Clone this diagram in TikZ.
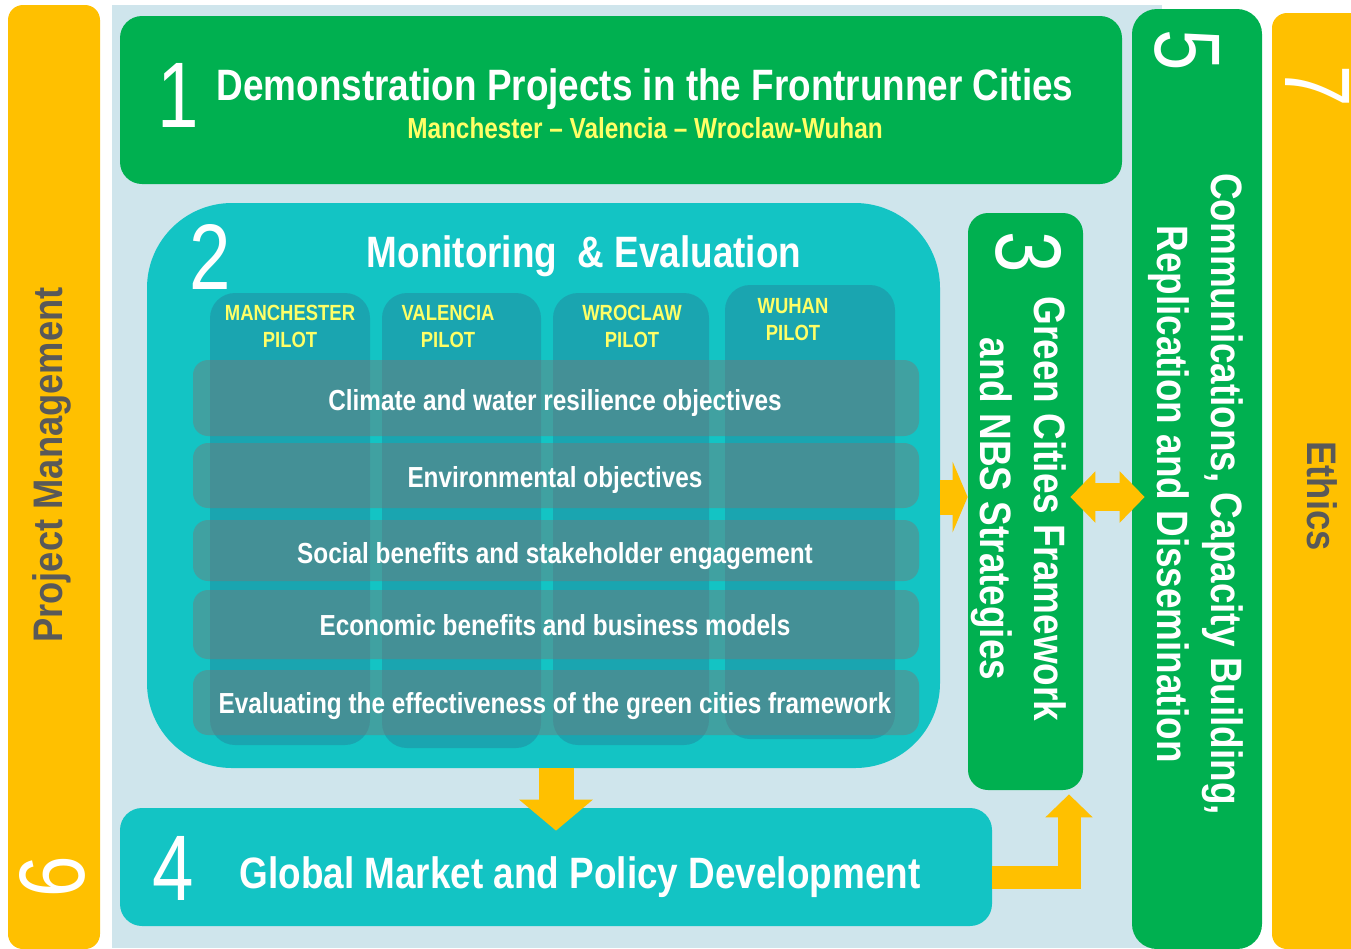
\documentclass[tikz,border=0pt]{standalone}
\usepackage{fontspec}
\usepackage{tikz}
\usetikzlibrary{arrows.meta,fit}
\newfontfamily\narrowfont{Liberation Sans}[FakeStretch=0.84]
\newfontfamily\greyfont{Liberation Sans}[FakeStretch=0.88]
\newfontfamily\thinfont{Liberation Sans}[FakeStretch=0.80]
\definecolor{wpgreen}{RGB}{0,176,80}
\definecolor{wpteal}{RGB}{19,196,196}
\definecolor{wporange}{RGB}{255,192,0}
\definecolor{wpbg}{RGB}{207,229,236}
\definecolor{wpyellow}{RGB}{255,255,102}
\definecolor{wpgrey}{RGB}{89,89,89}
\definecolor{pilotshade}{RGB}{40,110,140}
\definecolor{rowshade}{RGB}{120,120,120}
\tikzset{
  box/.style={inner sep=0pt, rounded corners=0.44cm},
  greenbox/.style={box, fill=wpgreen},
  tealbox/.style={box, fill=wpteal},
  orangebar/.style={box, fill=wporange, rounded corners=0.3cm},
  pilot/.style={inner sep=0pt, fill=pilotshade, fill opacity=0.35, rounded corners=0.5cm},
  objrow/.style={inner sep=0pt, fill=rowshade, fill opacity=0.45, rounded corners=0.3cm},
  title/.style={text=white, inner sep=0pt, align=center, font=\narrowfont\bfseries\fontsize{25}{31}\selectfont},
  subtitle/.style={text=wpyellow, inner sep=0pt, font=\narrowfont\bfseries\fontsize{16.5}{20}\selectfont},
  pilotlabel/.style={text=wpyellow, inner sep=0pt, align=center, font=\narrowfont\bfseries\fontsize{12.5}{15.3}\selectfont},
  rowlabel/.style={text=white, inner sep=0pt, font=\narrowfont\bfseries\fontsize{16.5}{20}\selectfont},
  greylabel/.style={text=wpgrey, inner sep=0pt, font=\greyfont\bfseries\fontsize{23.5}{28}\selectfont},
  bignum/.style={text=white, inner sep=0pt, font=\thinfont\fontsize{53}{53}\selectfont},
  blockarrow/.style={draw=wporange, line width=0.7cm, -{Triangle[length=0.62cm,width=1.44cm]}},
  sidearrow/.style={draw=wporange, line width=0.7cm, -{Triangle[length=0.3cm,width=1.4cm]}},
  twoarrow/.style={draw=wporange, line width=0.56cm, {Triangle[length=0.5cm,width=1cm]}-{Triangle[length=0.5cm,width=1cm]}},
  elbowarrow/.style={draw=wporange, line width=0.46cm, line join=miter, -{Triangle[length=0.46cm,width=0.92cm]}}
}

\begin{document}
\begin{tikzpicture}[x=0.02cm,y=-0.02cm]
      \useasboundingbox (0,0) rectangle (1351,948);
      \clip (0,0) rectangle (1351,948);
      \fill[wpbg] (112,5) rectangle (1162,948);
      \node[orangebar, fit={(8,5) (100,949)}] (wp6) {};
      \node[orangebar, fit={(1272,13) (1400,949)}] (wp7) {};
      \node[greenbox, rounded corners=0.5cm, fit={(1132,9) (1262,949)}] (wp5) {};
      \node[greenbox, fit={(120,16) (1122,184)}] (wp1) {};
      \node[tealbox, rounded corners=1.7cm, fit={(147,203) (940,768)}] (wp2) {};
      \node[greenbox, rounded corners=0.4cm, fit={(968,213) (1083,790)}] (wp3) {};
      \node[tealbox, fit={(120,808) (992,926)}] (wp4) {};

      \node[pilot, fit={(210,293) (370,745)}] (manchester) {};
      \node[pilot, fit={(382,293) (541,748)}] (valencia) {};
      \node[pilot, fit={(553,293) (709,745)}] (wroclaw) {};
      \node[pilot, fit={(725,285) (895,739)}] (wuhan) {};
      \node[objrow, fit={(193,360) (919,436)}] (climate) {};
      \node[objrow, fit={(193,443) (919,508)}] (environment) {};
      \node[objrow, fit={(193,520) (919,581)}] (social) {};
      \node[objrow, fit={(193,590) (919,659)}] (economic) {};
      \node[objrow, fit={(193,670) (919,735)}] (evaluating) {};

      \node[bignum] (n1) at (178,95) {1};
      \node[title, anchor=base] (t1) at (645,100) {Demonstration Projects in the Frontrunner Cities};
      \node[subtitle, anchor=base] (s1) at (645,138) {Manchester – Valencia – Wroclaw-Wuhan};
      \node[bignum] (n2) at (210,257) {2};
      \node[title, anchor=base] (t2) at (584,267) {Monitoring\ \ \& Evaluation};
      \node[pilotlabel, anchor=base] (lmanchester) at (290,347) {MANCHESTER\\PILOT};
      \node[pilotlabel, anchor=base] (lvalencia) at (448,347) {VALENCIA\\PILOT};
      \node[pilotlabel, anchor=base] (lwroclaw) at (632,347) {WROCLAW\\PILOT};
      \node[pilotlabel, anchor=base] (lwuhan) at (793,340) {WUHAN\\PILOT};
      \node[rowlabel, anchor=base] (lclimate) at (555,410) {Climate and water resilience objectives};
      \node[rowlabel, anchor=base] (lenvironment) at (555,487) {Environmental objectives};
      \node[rowlabel, anchor=base] (lsocial) at (555,563) {Social benefits and stakeholder engagement};
      \node[rowlabel, anchor=base] (leconomic) at (555,635) {Economic benefits and business models};
      \node[rowlabel, anchor=base] (levaluating) at (555,713) {Evaluating the effectiveness of the green cities framework};
      \node[bignum, rotate=-90] (n3) at (1029,252) {3};
      \node[title, rotate=-90, anchor=base] (t3) at (980,509) {Green Cities Framework\\and NBS Strategies};
      \node[bignum] (n4) at (173,868) {4};
      \node[title, anchor=base] (t4) at (580,888) {Global Market and Policy Development};
      \node[bignum, rotate=-90] (n5) at (1187,50) {5};
      \node[title, rotate=-90, anchor=base] (t5) at (1157,494) {Communications, Capacity Building,\\Replication and Dissemination};
      \node[bignum, rotate=90] (n6) at (52,877) {6};
      \node[greylabel, rotate=90, anchor=base] (t6) at (62,465) {Project Management};
      \node[bignum, rotate=-90] (n7) at (1318,86) {7};
      \node[greylabel, rotate=-90, anchor=base] (t7) at (1307,496) {Ethics};

      \draw[blockarrow] (wp2.south -| wp4.north) -- ([yshift=-0.46cm]wp4.north);
      \draw[sidearrow] ([yshift=0.09cm]wp3.west -| wp2.east) -- ([yshift=0.09cm]wp3.west);
      \draw[twoarrow] ([xshift=-0.26cm,yshift=0.09cm]wp3.east) -- ([xshift=0.26cm,yshift=0.09cm]wp3.east -| wp5.west);
      \draw[elbowarrow] ([yshift=-0.21cm]wp4.east) -| ([xshift=0.87cm,yshift=-0.08cm]wp3.south);
\end{tikzpicture}
\end{document}
